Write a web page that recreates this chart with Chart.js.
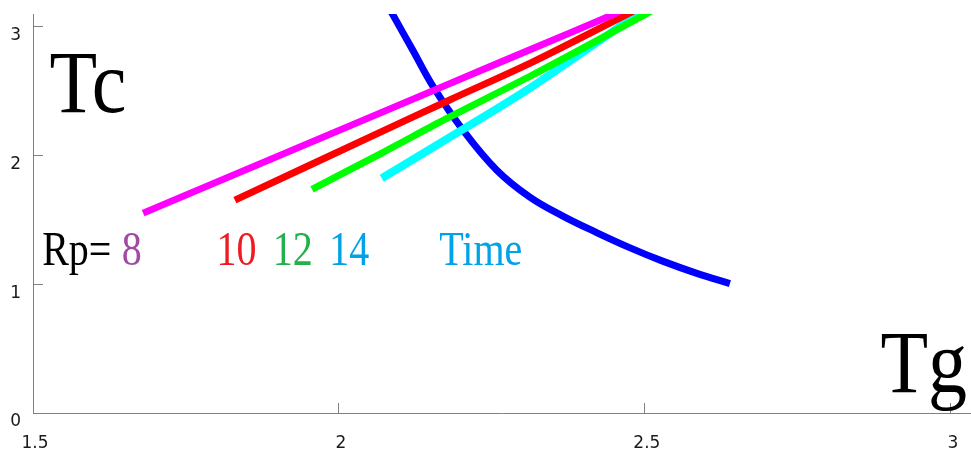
<!DOCTYPE html>
<html>
<head>
<meta charset="utf-8">
<script src="https://cdn.jsdelivr.net/npm/chart.js@4/dist/chart.umd.min.js"></script>
<style>
  html, body { margin: 0; padding: 0; background: #ffffff; }
  #wrap { position: relative; width: 971px; height: 454px; }
</style>
</head>
<body>
<div id="wrap"><canvas id="c"></canvas></div>
<script>
// ---- data (Tg on x, Tc on y) ----
const xTicks = [1.5, 2, 2.5, 3];
const yTicks = [0, 1, 2, 3];

const rp8Tg  = [1.680, 2.067, 2.181, 2.317, 2.448, 2.458];
const rp8Tc  = [1.553, 2.330, 2.559, 2.832, 3.095, 3.120];

const rp10Tg = [1.830, 2.067, 2.181, 2.317, 2.470, 2.481];
const rp10Tc = [1.654, 2.180, 2.432, 2.728, 3.095, 3.120];

const rp12Tg = [1.956, 2.067, 2.181, 2.317, 2.500, 2.510];
const rp12Tc = [1.738, 2.012, 2.300, 2.628, 3.095, 3.120];

const rp14Tg = [2.070, 2.203, 2.317, 2.487, 2.494];
const rp14Tc = [1.824, 2.205, 2.540, 3.095, 3.120];

const timeTg = [2.085, 2.088, 2.121, 2.154, 2.203, 2.258, 2.312, 2.366, 2.422, 2.475, 2.529, 2.585, 2.639];
const timeTc = [3.120, 3.095, 2.816, 2.535, 2.196, 1.886, 1.677, 1.530, 1.400, 1.285, 1.180, 1.085, 1.005];

const seriesNames = ['Rp 8', 'Rp 10', 'Rp 12', 'Rp 14', 'Time'];

// annotation texts (anchored in data coordinates)
const annoText = ['Tc', 'Tg', 'Rp= ', '8', '10', '12', '14', 'Time'];
const annoTg   = [1.527, 2.885, 1.515, 1.645, 1.800, 1.892, 1.984, 2.164];
const annoTc   = [2.34, 0.165, 1.15, 1.15, 1.15, 1.15, 1.15, 1.15];
const annoColor = ['#000000', '#000000', '#000000', '#A349A4', '#ED1C24', '#22B14C', '#00A2E8', '#00A2E8'];
const annoSize  = [78, 78, 40, 40, 40, 40, 40, 40];
const annoStretch = [1.15, 1.15, 1.2, 1.2, 1.2, 1.2, 1.2, 1.2];

function pts(xs, ys) { return xs.map((x, i) => ({ x: x, y: ys[i] })); }

function lineDs(label, xs, ys, color, w, tension) {
  return {
    label: label,
    data: pts(xs, ys),
    showLine: true,
    borderColor: color,
    backgroundColor: color,
    borderWidth: w,
    pointRadius: 0,
    pointHoverRadius: 0,
    tension: tension,
    borderCapStyle: 'butt',
    borderJoinStyle: 'round',
    clip: 0
  };
}

const annoPlugin = {
  id: 'anno',
  afterDraw(chart) {
    const ctx = chart.ctx;
    const xs = chart.scales.x, ys = chart.scales.y;
    for (let i = 0; i < annoText.length; i++) {
      ctx.save();
      ctx.textAlign = 'left';
      ctx.textBaseline = 'alphabetic';
      ctx.font = annoSize[i] + 'px "Liberation Serif", "Times New Roman", serif';
      ctx.fillStyle = annoColor[i];
      ctx.translate(xs.getPixelForValue(annoTg[i]), ys.getPixelForValue(annoTc[i]));
      ctx.scale(1, annoStretch[i]);
      ctx.fillText(annoText[i], 0, 0);
      ctx.restore();
    }
  }
};

const tickFont = { family: '"DejaVu Sans", Verdana, sans-serif', size: 17 };

new Chart(document.getElementById('c'), {
  type: 'scatter',
  data: {
    datasets: [
      lineDs(seriesNames[0], rp8Tg, rp8Tc, '#FF00FF', 7, 0.3),
      lineDs(seriesNames[1], rp10Tg, rp10Tc, '#FF0000', 7, 0.3),
      lineDs(seriesNames[2], rp12Tg, rp12Tc, '#00FF00', 7, 0.3),
      lineDs(seriesNames[3], rp14Tg, rp14Tc, '#00FFFF', 8, 0.3),
      lineDs(seriesNames[4], timeTg, timeTc, '#0000FF', 7, 0.4)
    ]
  },
  options: {
    responsive: true,
    maintainAspectRatio: false,
    animation: false,
    layout: { padding: { top: 14, right: 0, left: 0, bottom: 0 } },
    plugins: { legend: { display: false }, tooltip: { enabled: false } },
    scales: {
      x: {
        type: 'linear',
        min: 1.5,
        max: 3.033,
        afterBuildTicks: s => { s.ticks = xTicks.map(v => ({ value: v })); },
        afterFit: s => { s.height = 41; s.paddingLeft = 0; s.paddingRight = 0; },
        border: { display: true, color: '#808080', width: 1 },
        grid: { drawOnChartArea: false, drawTicks: true, tickLength: -10, color: '#808080' },
        ticks: { font: tickFont, color: '#1a1a1a', padding: 30, maxRotation: 0, autoSkip: false, labelOffset: 2,
                 callback: v => String(v) }
      },
      y: {
        type: 'linear',
        min: 0,
        max: 3.1,
        afterBuildTicks: s => { s.ticks = yTicks.map(v => ({ value: v })); },
        afterFit: s => { s.width = 33; s.paddingTop = 0; s.paddingBottom = 0; },
        border: { display: true, color: '#808080', width: 1 },
        grid: { drawOnChartArea: false, drawTicks: true, tickLength: -10, color: '#808080' },
        ticks: { font: tickFont, color: '#1a1a1a', padding: 22, autoSkip: false, labelOffset: 9,
                 callback: v => String(v) }
      }
    }
  },
  plugins: [annoPlugin]
});
</script>
</body>
</html>
